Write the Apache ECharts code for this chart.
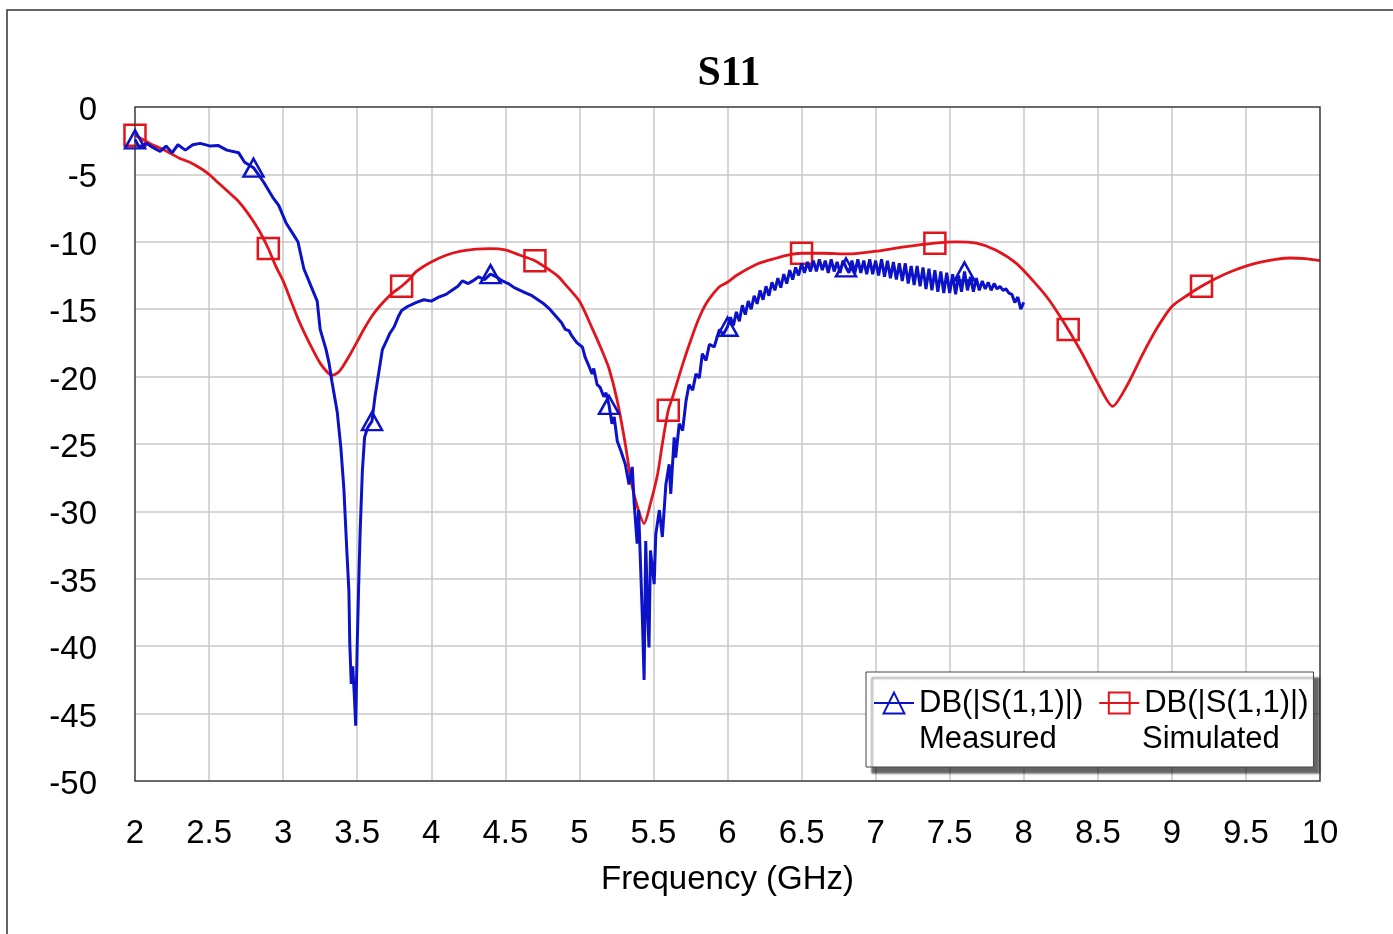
<!DOCTYPE html>
<html>
<head>
<meta charset="utf-8">
<script src="https://cdn.jsdelivr.net/npm/echarts@6/dist/echarts.min.js"></script>
<style>
html,body{margin:0;padding:0;background:#fff;}
#chart{width:1393px;height:934px;}
</style>
</head>
<body>
<div id="chart"></div>
<script>
// Frequency ticks / labels
const xTicks = ['2','2.5','3','3.5','4','4.5','5','5.5','6','6.5','7','7.5','8','8.5','9','9.5','10'];
const yTicks = ['0','-5','-10','-15','-20','-25','-30','-35','-40','-45','-50'];

// Measured S11 (GHz, dB)
const measuredFreq = [
2.00,2.03,2.08,2.12,2.17,2.21,2.25,2.29,2.34,2.39,2.44,2.51,2.56,2.62,2.70,2.74,2.80,2.87,2.93,2.97,
3.02,3.06,3.10,3.14,3.20,3.23,3.25,3.29,3.31,3.33,3.365,3.39,3.41,3.43,3.444,3.45,3.46,3.47,3.48,3.49,
3.50,3.51,3.52,3.535,3.55,3.57,3.60,3.62,3.65,3.67,3.70,3.72,3.75,3.78,3.80,3.84,3.90,3.95,4.00,4.05,
4.10,4.14,4.18,4.21,4.25,4.28,4.32,4.36,4.40,4.44,4.48,4.52,4.56,4.60,4.64,4.68,4.72,4.76,4.80,4.84,
4.88,4.905,4.93,4.95,4.984,5.02,5.04,5.06,5.086,5.097,5.12,5.14,5.165,5.18,5.20,5.22,5.235,5.256,5.28,5.31,
5.335,5.357,5.37,5.39,5.40,5.425,5.437,5.448,5.46,5.47,5.48,5.505,5.516,5.54,5.56,5.584,5.606,5.617,5.64,5.65,
5.674,5.697,5.72,5.74,5.765,5.787,5.81,5.83,5.855,5.878,5.91,5.946,5.97,6.00,
6.02,6.04,6.06,6.08,6.10,6.12,6.14,6.16,6.18,6.20,6.22,6.24,6.26,6.28,6.30,6.32,6.34,6.36,6.38,6.40,
6.42,6.44,6.46,6.48,6.50,6.52,6.54,6.56,6.58,6.60,6.62,6.64,6.66,6.68,6.70,6.72,6.74,6.76,6.78,6.80,
6.82,6.84,6.86,6.88,6.90,6.92,6.94,6.96,6.98,7.00,7.02,7.04,7.06,7.08,7.10,7.12,7.14,7.16,7.18,7.20,
7.22,7.24,7.26,7.28,7.30,7.32,7.34,7.36,7.38,7.40,7.42,7.44,7.46,7.48,7.50,7.52,7.54,7.56,7.58,7.60,
7.62,7.64,7.66,7.68,7.70,7.72,7.74,7.76,7.78,7.80,7.82,7.84,7.86,7.88,7.90,7.92,7.94,7.96,7.98,8.00
];
const measuredDB = [
-2.4,-3.0,-2.7,-3.0,-3.3,-2.9,-3.4,-2.8,-3.2,-2.8,-2.7,-2.9,-2.85,-3.2,-3.4,-4.1,-4.5,-5.6,-6.7,-7.3,
-8.6,-9.3,-10.0,-12.0,-13.6,-14.4,-16.5,-18.0,-19.0,-20.4,-22.6,-25.3,-28.3,-32.9,-35.9,-39.8,-42.8,-41.5,-43.5,-45.9,
-40.0,-35.5,-31.5,-27.0,-24.5,-23.8,-23.3,-21.5,-19.4,-18.0,-17.3,-16.8,-16.3,-15.5,-15.1,-14.8,-14.5,-14.3,-14.4,-14.1,
-13.9,-13.6,-13.3,-12.9,-13.1,-12.9,-12.6,-12.8,-12.4,-12.6,-12.9,-13.1,-13.4,-13.6,-13.8,-14.0,-14.3,-14.6,-15.0,-15.5,
-16.0,-16.5,-16.6,-17.0,-17.5,-17.8,-18.6,-19.1,-19.8,-19.4,-20.6,-20.8,-21.5,-21.2,-22.1,-23.5,-23.0,-24.8,-25.5,-26.5,
-28.0,-26.7,-29.4,-32.4,-29.9,-37.8,-42.5,-32.2,-37.3,-40.1,-32.9,-35.4,-31.7,-29.9,-31.9,-28.0,-26.5,-28.7,-24.5,-26.0,
-23.5,-24.0,-21.8,-20.6,-21.0,-19.8,-20.1,-18.3,-18.8,-17.6,-17.8,-16.5,-16.9,-16.3,
-15.6,-16.2,-15.2,-15.9,-14.7,-15.4,-14.4,-15.0,-14.0,-14.6,-13.6,-14.3,-13.3,-14.0,-13.0,-13.6,-12.7,-13.4,-12.4,-13.1,
-12.1,-12.8,-11.9,-12.5,-11.6,-12.3,-11.5,-12.2,-11.4,-12.2,-11.3,-12.1,-11.4,-12.3,-11.3,-12.2,-11.5,-12.3,-11.4,-11.9,
-12.3,-11.4,-12.3,-11.3,-12.3,-11.4,-12.4,-11.3,-12.4,-11.4,-12.5,-11.3,-12.6,-11.4,-12.7,-11.5,-12.8,-11.6,-12.9,-11.6,
-13.1,-11.8,-13.2,-11.8,-13.3,-11.9,-13.5,-12.0,-13.6,-12.1,-13.7,-12.2,-13.8,-12.3,-13.8,-12.4,-13.9,-12.5,-13.7,-12.2,
-13.6,-12.6,-13.7,-12.7,-13.6,-12.9,-13.5,-13.0,-13.6,-13.1,-13.5,-13.3,-13.6,-13.5,-13.8,-13.9,-14.5,-14.1,-15.0,-14.5
];

// Simulated S11 (GHz, dB)
const simulatedFreq = [
2.00,2.05,2.10,2.20,2.30,2.37,2.45,2.50,2.56,2.62,2.69,2.75,2.80,2.85,2.90,2.95,3.00,3.05,3.10,3.15,
3.20,3.25,3.30,3.33,3.37,3.40,3.45,3.50,3.55,3.60,3.65,3.70,3.75,3.80,3.85,3.90,4.00,4.10,4.20,4.30,
4.40,4.50,4.60,4.70,4.80,4.86,4.90,5.00,5.086,5.15,5.20,5.256,5.31,5.35,5.39,5.437,5.48,5.527,5.56,5.60,
5.63,5.70,5.765,5.81,5.855,5.90,5.95,6.00,6.06,6.19,6.30,6.40,6.50,6.64,6.82,7.00,7.18,7.40,7.54,7.68,
7.81,7.95,8.08,8.17,8.30,8.40,8.50,8.60,8.70,8.80,8.90,9.00,9.10,9.20,9.30,9.40,9.50,9.60,9.70,9.80,
9.90,10.00
];
const simulatedDB = [
-2.1,-2.4,-2.7,-3.2,-3.8,-4.1,-4.6,-5.0,-5.6,-6.2,-6.9,-7.7,-8.5,-9.4,-10.5,-11.8,-12.9,-14.3,-15.7,-16.9,
-18.0,-19.0,-19.7,-19.9,-19.7,-19.3,-18.4,-17.4,-16.4,-15.5,-14.8,-14.2,-13.7,-13.3,-12.8,-12.2,-11.5,-11.0,-10.7,-10.55,
-10.5,-10.6,-11.0,-11.4,-12.1,-12.6,-13.1,-14.4,-16.4,-18.0,-19.4,-21.8,-25.0,-27.8,-29.6,-30.9,-29.4,-27.3,-25.0,-22.5,
-21.5,-19.0,-16.9,-15.6,-14.6,-13.9,-13.3,-13.0,-12.5,-11.7,-11.3,-11.0,-10.85,-10.85,-10.9,-10.7,-10.4,-10.1,-10.0,-10.1,
-10.6,-11.6,-13.1,-14.3,-16.5,-18.4,-20.5,-22.2,-20.6,-18.4,-16.4,-14.8,-14.0,-13.3,-12.7,-12.2,-11.8,-11.5,-11.3,-11.2,
-11.25,-11.4
];

// Marker frequencies
const measuredMarkers = [2.0,2.8,3.6,4.4,5.2,6.0,6.8,7.6];
const simulatedMarkers = [2.0,2.9,3.8,4.7,5.6,6.5,7.4,8.3,9.2];

const BLUE = '#0c12c8';
const RED = '#e2141c';
const FONT = "'Liberation Sans', Arial, sans-serif";

const hasMarker = (list, f) => list.some(m => Math.abs(m - f) < 1e-6);

const chart = echarts.init(document.getElementById('chart'), null, {renderer: 'canvas'});
chart.setOption({
  animation: false,
  backgroundColor: '#fff',
  title: {
    text: 'S11',
    left: 724,
    textAlign: 'center',
    top: 48,
    textStyle: {fontFamily: "'Liberation Serif', 'Times New Roman', serif", fontWeight: 'bold', fontSize: 42, color: '#000'}
  },
  grid: {
    left: 135, right: 73, top: 107, bottom: 153,
    show: true, borderColor: '#3a3a3a', borderWidth: 1.5, backgroundColor: 'transparent', z: 3
  },
  xAxis: {
    type: 'value', min: 2, max: 10, interval: 0.5,
    name: 'Frequency (GHz)', nameLocation: 'middle', nameGap: 82,
    nameTextStyle: {fontFamily: FONT, fontSize: 33, color: '#000'},
    axisLine: {show: false}, axisTick: {show: false},
    axisLabel: {margin: 36, fontFamily: FONT, fontSize: 33, color: '#000',
      formatter: (v) => { const i = Math.round((v - 2) / 0.5); return xTicks[i] !== undefined ? xTicks[i] : ''; }},
    splitLine: {show: true, showMinLine: false, showMaxLine: false, lineStyle: {color: '#c8c8c8', width: 1.5}}
  },
  yAxis: {
    type: 'value', min: -50, max: 0, interval: 5,
    axisLine: {show: false}, axisTick: {show: false},
    axisLabel: {margin: 38, color: '#000',
      rich: {t: {fontFamily: FONT, fontSize: 33, color: '#000', padding: [8, 0, 0, 0]}},
      formatter: (v) => { const i = Math.round(-v / 5); return yTicks[i] !== undefined ? '{t|' + yTicks[i] + '}' : ''; }},
    splitLine: {show: true, showMinLine: false, showMaxLine: false, lineStyle: {color: '#c8c8c8', width: 1.5}}
  },
  legend: {
    left: 866, top: 672,
    orient: 'horizontal',
    padding: [13, 5, 46, 7],
    itemGap: 15, itemWidth: 40, itemHeight: 26,
    backgroundColor: '#fff', borderColor: '#444', borderWidth: 1,
    shadowColor: 'rgba(0,0,0,0.6)', shadowBlur: 2, shadowOffsetX: 6, shadowOffsetY: 6,
    selectedMode: false,
    textStyle: {fontFamily: FONT, fontSize: 31, color: '#000', lineHeight: 36},
    formatter: () => 'DB(|S(1,1)|)',
    data: ['Measured', 'Simulated']
  },
  graphic: [
    {type: 'rect', shape: {x: 7, y: 10, width: 1400, height: 940}, style: {fill: 'none', stroke: '#333', lineWidth: 1.5}, silent: true, z: -10},
    {type: 'text', x: 919, y: 739, z: 100, silent: true, style: {text: 'Measured', font: "31px 'Liberation Sans', Arial, sans-serif", fill: '#000', verticalAlign: 'middle'}},
    {type: 'text', x: 1142, y: 739, z: 100, silent: true, style: {text: 'Simulated', font: "31px 'Liberation Sans', Arial, sans-serif", fill: '#000', verticalAlign: 'middle'}}
  ],
  series: [
    {
      name: 'Measured', type: 'line',
      data: measuredFreq.map((f, i) => [f, measuredDB[i]]),
      symbol: 'triangle',
      symbolSize: (v) => hasMarker(measuredMarkers, v[0]) ? [20, 18] : 0,
      showAllSymbol: true,
      lineStyle: {color: BLUE, width: 3},
      itemStyle: {color: 'rgba(0,0,0,0)', borderColor: BLUE, borderWidth: 2.5},
      emphasis: {disabled: true},
      z: 3
    },
    {
      name: 'Simulated', type: 'line',
      data: simulatedFreq.map((f, i) => [f, simulatedDB[i]]),
      smooth: 0.25,
      symbol: 'rect',
      symbolSize: (v) => hasMarker(simulatedMarkers, v[0]) ? 21 : 0,
      showAllSymbol: true,
      lineStyle: {color: RED, width: 2.8},
      itemStyle: {color: 'rgba(0,0,0,0)', borderColor: RED, borderWidth: 2.5},
      emphasis: {disabled: true},
      z: 2
    }
  ]
});
</script>
</body>
</html>
